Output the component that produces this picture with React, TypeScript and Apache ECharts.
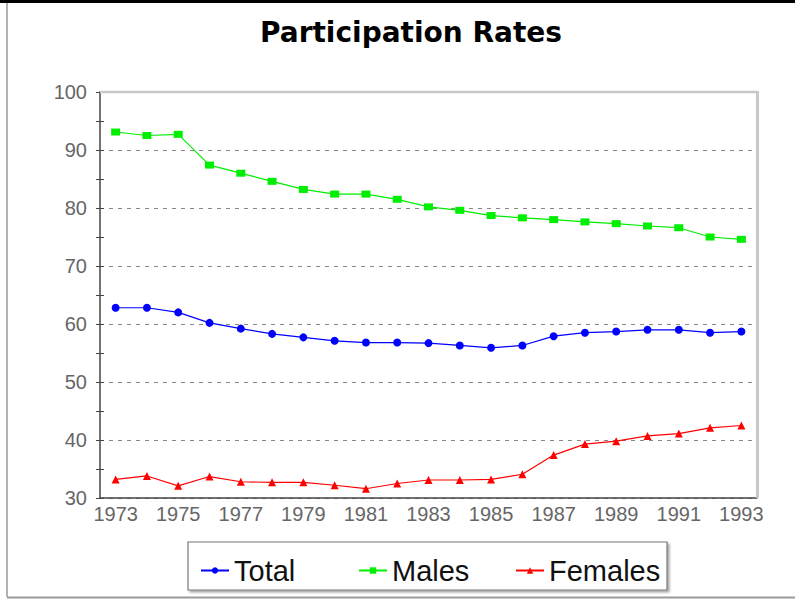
import React, { useEffect, useRef } from "react";
import * as echarts from "echarts";

const years = ["1973","1974","1975","1976","1977","1978","1979","1980","1981","1982","1983","1984","1985","1986","1987","1988","1989","1990","1991","1992","1993"];
const total = [62.8,62.8,62.0,60.2,59.2,58.3,57.7,57.1,56.8,56.8,56.7,56.3,55.9,56.3,57.9,58.5,58.7,59.0,59.0,58.5,58.7];
const males = [93.1,92.5,92.7,87.4,86.0,84.6,83.2,82.4,82.4,81.5,80.2,79.6,78.7,78.3,78.0,77.6,77.3,76.9,76.6,75.0,74.6];
const females = [33.2,33.8,32.1,33.7,32.8,32.7,32.7,32.2,31.6,32.5,33.1,33.1,33.2,34.1,37.4,39.3,39.8,40.7,41.1,42.1,42.5];

export default function App() {
  const ref = useRef<HTMLDivElement>(null);
  useEffect(() => {
    const chart = echarts.init(ref.current!, null, { renderer: "svg" });
    const font = "Liberation Sans, Arial, sans-serif";
    const gridL = 100, gridT = 92, gridR = 38, gridB = 101;
    const plotRight = 795 - gridR;
    const plotBottom = 599 - gridB;
    const legendItem = (name: string, left: number) => ({
      data: [name],
      left,
      top: 551,
      itemWidth: 28,
      itemHeight: 8,
      itemGap: 10,
      textStyle: { fontFamily: font, fontSize: 29, color: "#111" },
    });
    chart.setOption({
      animation: false,
      backgroundColor: "#fff",
      title: {
        text: "Participation Rates",
        left: 255,
        top: 13,
        textStyle: { fontFamily: "DejaVu Sans, sans-serif", fontSize: 28, fontWeight: "bold", color: "#000" },
      },
      legend: [legendItem("Total", 195), legendItem("Males", 353), legendItem("Females", 510)],
      grid: { left: gridL, top: gridT, right: gridR, bottom: gridB },
      xAxis: [
        {
          type: "category",
          data: years,
          boundaryGap: true,
          axisLine: { lineStyle: { color: "#444", width: 1.5 } },
          axisTick: { alignWithLabel: true, length: 5, lineStyle: { color: "#444" } },
          axisLabel: { interval: 1, fontFamily: font, fontSize: 20, color: "#666", margin: 6 },
          splitLine: { show: false },
        },
        {
          type: "category",
          data: years,
          position: "bottom",
          boundaryGap: true,
          axisLine: { show: false },
          axisTick: { alignWithLabel: true, inside: true, length: 5, lineStyle: { color: "#444" } },
          axisLabel: { show: false },
          splitLine: { show: false },
        },
      ],
      yAxis: [
        {
          type: "value",
          min: 30,
          max: 100,
          interval: 10,
          axisLine: { show: true, lineStyle: { color: "#444", width: 1.5 } },
          axisTick: { show: true, length: 4, lineStyle: { color: "#444" } },
          minorTick: { show: true, splitNumber: 2, length: 4, lineStyle: { color: "#444" } },
          axisLabel: { fontFamily: font, fontSize: 20, color: "#666", margin: 13 },
          splitLine: { show: true, lineStyle: { color: "#888", type: [4, 5], width: 1.2 } },
        },
        {
          type: "value",
          min: 30,
          max: 100,
          interval: 10,
          position: "left",
          axisLine: { show: false },
          axisTick: { show: true, inside: true, length: 4, lineStyle: { color: "#444" } },
          minorTick: { show: true, splitNumber: 2, length: 4, lineStyle: { color: "#444" } },
          axisLabel: { show: false },
          splitLine: { show: false },
        },
      ],
      series: [
        {
          name: "Total",
          type: "line",
          data: total,
          color: "#0000ff",
          symbol: "circle",
          symbolSize: 8,
          lineStyle: { width: 1.2 },
          z: 5,
        },
        {
          name: "Males",
          type: "line",
          data: males,
          color: "#00ee00",
          symbol: "rect",
          symbolSize: [9, 7],
          lineStyle: { width: 1.2 },
          z: 5,
        },
        {
          name: "Females",
          type: "line",
          data: females,
          color: "#ff0000",
          symbol: "triangle",
          symbolSize: 8,
          lineStyle: { width: 1.2 },
          z: 5,
        },
      ],
      graphic: [
        { type: "line", shape: { x1: 0, y1: 1.5, x2: 795, y2: 1.5 }, style: { stroke: "#000", lineWidth: 3 } },
        { type: "line", shape: { x1: 7, y1: 3, x2: 7, y2: 597 }, style: { stroke: "#999", lineWidth: 1.5 } },
        { type: "line", shape: { x1: 7, y1: 597.5, x2: 795, y2: 597.5 }, style: { stroke: "#999", lineWidth: 2 } },
        { type: "line", shape: { x1: gridL, y1: gridT, x2: plotRight, y2: gridT }, style: { stroke: "#c8c8c8", lineWidth: 2.5 }, z: 10 },
        { type: "line", shape: { x1: plotRight + 0.5, y1: gridT - 1, x2: plotRight + 0.5, y2: plotBottom }, style: { stroke: "#c8c8c8", lineWidth: 3 }, z: 10 },
        {
          type: "rect",
          shape: { x: 188, y: 542, width: 479, height: 48 },
          style: { fill: "#fff", stroke: "#777", lineWidth: 1.2, shadowColor: "rgba(0,0,0,0.35)", shadowOffsetX: 2, shadowOffsetY: 2, shadowBlur: 2 },
          z: -1,
        },
      ],
    });
    return () => chart.dispose();
  }, []);
  return <div ref={ref} style={{ position: "absolute", left: 0, top: 0, width: 795, height: 599 }} />;
}
